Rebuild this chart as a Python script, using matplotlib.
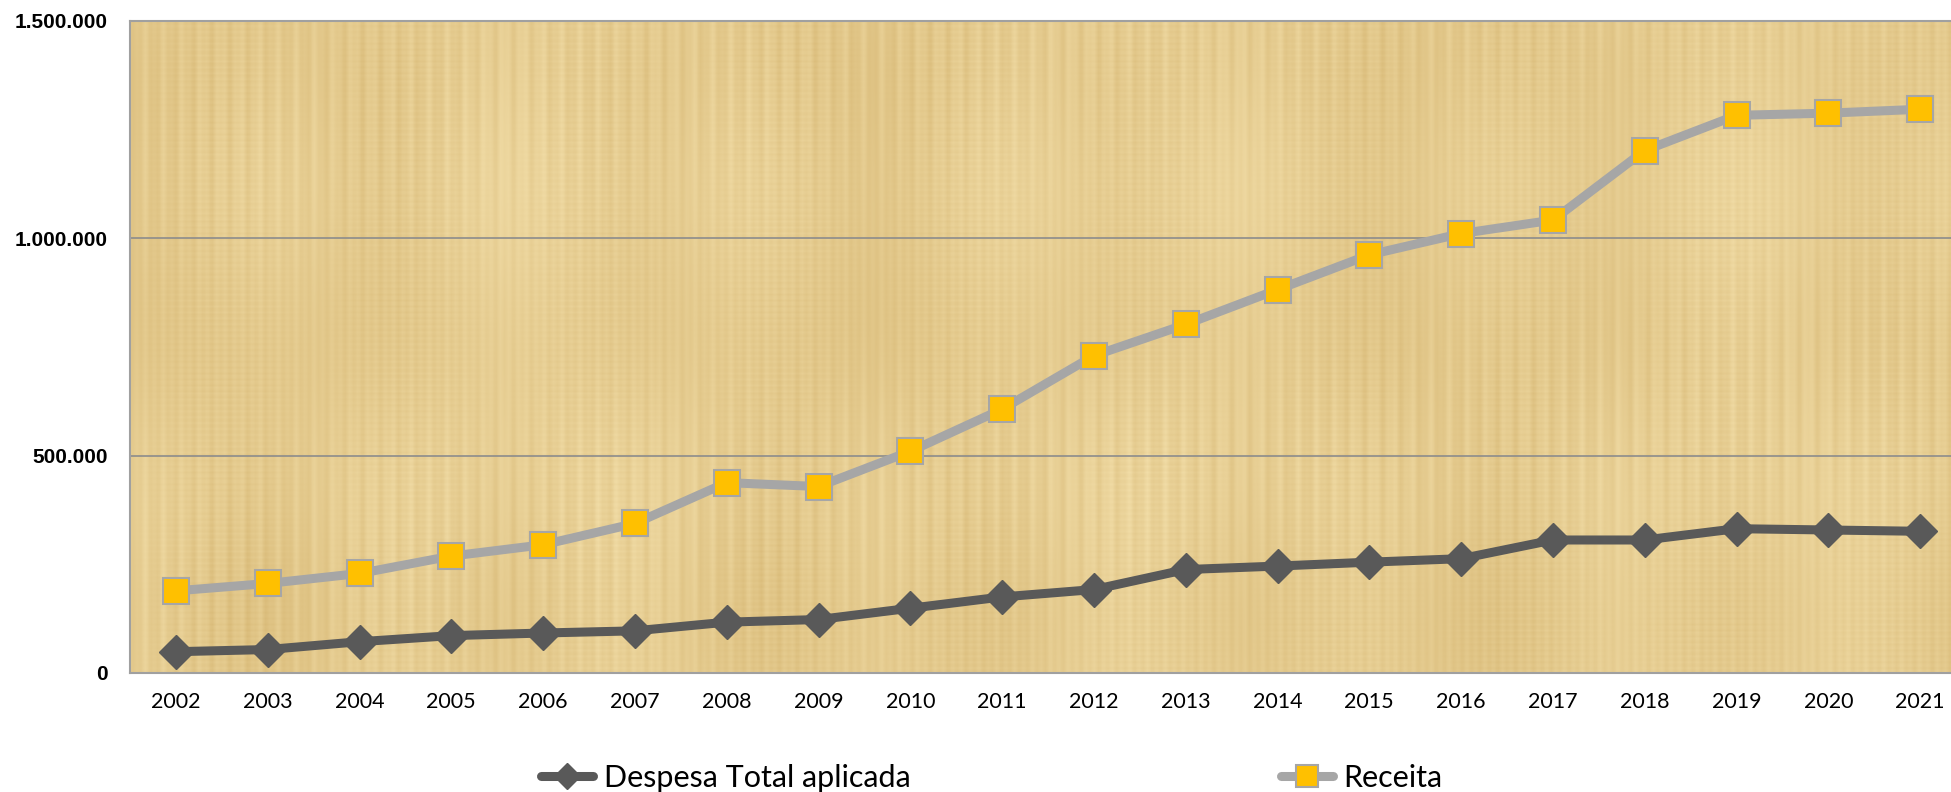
import numpy as np
import matplotlib
matplotlib.use("Agg")
import matplotlib.pyplot as plt
from matplotlib.ticker import FuncFormatter

years = ["2002", "2003", "2004", "2005", "2006", "2007", "2008", "2009", "2010", "2011",
         "2012", "2013", "2014", "2015", "2016", "2017", "2018", "2019", "2020", "2021"]
despesa = [49000, 54000, 72000, 86000, 92000, 97000, 117000, 123000, 149000, 175000,
           192000, 238000, 246000, 255000, 263000, 306000, 306000, 332000, 329000, 326000]
receita = [189000, 206000, 229000, 269000, 295000, 344000, 438000, 429000, 510000, 607000,
           730000, 802000, 882000, 962000, 1011000, 1042000, 1202000, 1283000, 1288000, 1297000]
yticks = [0, 500000, 1000000, 1500000]

fig = plt.figure(figsize=(19.51, 7.92), dpi=100)
ax = fig.add_axes([130/1951, 1-673/792, (1966-130)/1951, (673-21)/792])

# papyrus-like background texture (deterministic)
xx = np.linspace(0, 1, 900)
yy = np.linspace(0, 1, 330)
X, Y = np.meshgrid(xx, yy)
tex = (0.5
       + 0.16*np.sin(X*610) * (0.6 + 0.4*np.sin(Y*9 + X*3))
       + 0.10*np.sin(X*1300 + 0.7)
       + 0.08*np.sin(Y*700) * np.sin(X*31)
       + 0.12*np.sin(X*47 + 1.3) * np.sin(Y*5 + 0.2)
       + 0.08*np.sin(X*19 + 0.4) + 0.06*np.sin(Y*14 + 1.1))
tex = (tex - tex.min()) / (tex.max() - tex.min())
c_light = np.array([0.95, 0.87, 0.66])
c_dark = np.array([0.85, 0.73, 0.47])
img = c_dark[None, None, :] * tex[..., None] + c_light[None, None, :] * (1 - tex[..., None])
ax.imshow(img, extent=[-0.5, 19.5, 0, 1500000], aspect="auto", zorder=0, interpolation="bilinear")

x = np.arange(len(years))
l1, = ax.plot(x, despesa, color="#595959", lw=6.5, marker="D", markersize=17,
              markerfacecolor="#595959", markeredgecolor="#595959", label="Despesa Total aplicada",
              zorder=3, solid_capstyle="round")
l2, = ax.plot(x, receita, color="#A6A6A6", lw=6.5, marker="s", markersize=19,
              markerfacecolor="#FFC000", markeredgecolor="#A6A6A6", markeredgewidth=1.5,
              label="Receita", zorder=3, solid_capstyle="round")

ax.set_xlim(-0.5, 19.5)
ax.set_ylim(0, 1500000)
ax.set_yticks(yticks)
ax.yaxis.set_major_formatter(FuncFormatter(lambda v, p: f"{int(v):,}".replace(",", ".")))
ax.set_xticks(x)
ax.set_xticklabels(years)
for y in yticks[1:3]:
    ax.axhline(y, color="#8C8C8C", lw=1.2, zorder=1)
for s in ax.spines.values():
    s.set_color("#A0A0A0")
    s.set_linewidth(1.5)
ax.tick_params(axis="both", length=0)
ax.tick_params(axis="y", pad=16)
ax.tick_params(axis="x", pad=14)
for t in ax.get_yticklabels():
    t.set_fontfamily("Liberation Sans")
    t.set_fontweight("bold")
    t.set_fontsize(15)
for t in ax.get_xticklabels():
    t.set_fontfamily("Lato")
    t.set_fontsize(15.5)

common = dict(frameon=False, prop={"family": "Lato", "size": 22}, handlelength=1.7,
              handletextpad=0.35, markerscale=0.8, borderpad=0, borderaxespad=0)
leg1 = fig.legend(handles=[l1], loc="center left", bbox_to_anchor=(541/1951, 1-778/792), **common)
leg2 = fig.legend(handles=[l2], loc="center left", bbox_to_anchor=(1281/1951, 1-778/792), **common)

fig.savefig("out.png", dpi=100)
